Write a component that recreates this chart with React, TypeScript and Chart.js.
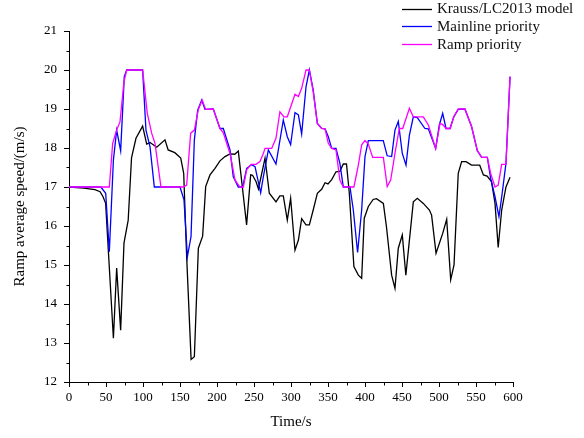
import React, { useEffect, useRef } from "react";
import { Chart, registerables } from "chart.js";

Chart.register(...registerables);

const seriesLabels = ["Krauss/LC2013 model", "Mainline priority", "Ramp priority"];
const seriesColors = ["#000000", "#0000ff", "#ff00ff"];

const kraussTime = [0, 20, 35, 42, 46, 49.5, 60, 64.4, 69.8, 74.3, 80, 84.5, 90.5, 99.5, 105, 109.5, 118.5, 129.7, 134, 143, 151, 155, 159, 165, 169.4, 174.8, 180.6, 184.7, 190.5, 197.3, 204, 210.8, 217.6, 224, 228.8, 240, 245.5, 248, 252.7, 256, 264.9, 270.7, 279.7, 285, 289.6, 295, 299.5, 305.4, 310, 314.4, 320.3, 324.8, 330, 335.6, 341.4, 346, 350, 355, 360.8, 366, 370.7, 375, 378.8, 385, 391, 395.5, 399, 404.5, 411, 415.5, 424.8, 429, 436, 440.5, 445, 450.4, 455.2, 465.3, 470.7, 478.8, 487, 490, 496, 505, 510.4, 515.8, 520.3, 526, 530.6, 536.5, 544, 555, 560, 565, 571, 575.7, 580, 584.7, 590.5, 596];
const kraussSpeed = [17.0, 16.97, 16.93, 16.88, 16.75, 16.58, 13.12, 14.92, 13.33, 15.56, 16.15, 17.75, 18.25, 18.56, 18.1, 18.14, 18.02, 18.21, 17.95, 17.88, 17.74, 17.35, 15.21, 12.58, 12.65, 15.43, 15.74, 17.01, 17.31, 17.48, 17.67, 17.78, 17.85, 17.84, 17.92, 16.03, 17.31, 17.3, 17.14, 16.95, 17.74, 16.84, 16.62, 16.77, 16.77, 16.15, 16.71, 15.38, 15.64, 16.19, 16.03, 16.03, 16.41, 16.84, 16.94, 17.11, 17.08, 17.19, 17.39, 17.4, 17.59, 17.59, 16.84, 14.96, 14.74, 14.66, 16.2, 16.5, 16.68, 16.7, 16.58, 15.98, 14.74, 14.4, 15.43, 15.77, 14.74, 16.62, 16.71, 16.58, 16.41, 16.28, 15.3, 15.81, 16.17, 14.62, 15.0, 17.35, 17.65, 17.65, 17.56, 17.56, 17.31, 17.28, 17.14, 16.58, 15.45, 16.41, 17.0, 17.25];

const mainTime = [0, 43, 49.6, 54.5, 60, 64.4, 69.8, 74.7, 78, 99.5, 104, 109.5, 115.3, 150, 155.4, 160, 164.9, 169.4, 173.9, 179.3, 183.8, 195, 204, 208.5, 217.6, 222, 228.8, 234.7, 240.1, 246.8, 251.4, 259, 262.6, 269.4, 279.7, 289.6, 295, 299.5, 305.4, 310, 314.4, 320.3, 324.8, 330, 335.6, 341.4, 346, 350.4, 355, 360.8, 366, 370.7, 379.7, 384.2, 390, 395.5, 400, 404.5, 424.7, 430, 436, 440.5, 445, 450.4, 455.4, 460, 465.3, 470.7, 481, 485.6, 495.5, 500.4, 505, 509.5, 515, 520, 526, 535, 544, 551.8, 557.7, 565.3, 569.8, 575.7, 581, 584.7, 590.5, 596];
const mainSpeed = [17, 17, 16.84, 15.34, 17.69, 18.46, 17.93, 19.83, 20, 20, 18.46, 18.03, 17.0, 17.0, 16.67, 15.21, 15.73, 18.21, 18.97, 19.23, 18.99, 19.0, 18.5, 18.5, 17.95, 17.26, 17.0, 17.0, 17.48, 17.57, 17.52, 16.85, 17.26, 17.95, 17.59, 18.72, 18.29, 18.09, 18.91, 18.85, 18.36, 19.57, 20.0, 19.49, 18.63, 18.5, 18.49, 18.29, 17.99, 17.99, 17.61, 17.0, 17.0, 16.41, 15.32, 16.41, 17.78, 18.19, 18.19, 17.8, 17.78, 18.46, 18.68, 17.86, 17.56, 18.33, 18.8, 18.78, 18.5, 18.49, 17.99, 18.59, 18.89, 18.5, 18.5, 18.8, 18.99, 19.0, 18.55, 17.93, 17.76, 17.76, 17.22, 16.75, 16.24, 16.74, 17.61, 19.83];

const rampTime = [0, 54.5, 59, 64.4, 68.9, 74.3, 78, 99.5, 105.8, 111.7, 116.2, 124.3, 154.5, 159, 164.4, 169.4, 174.8, 180, 184.7, 195, 204, 208.5, 217.6, 224.3, 231, 235.6, 240.1, 246, 252.7, 258, 262.6, 264.9, 273.9, 279.7, 285, 290.5, 295, 305.4, 310, 314.4, 320.3, 324.8, 330, 335.6, 341.4, 346, 350.4, 355, 360.8, 366, 370.7, 385, 391, 395.5, 400, 404.5, 410.4, 424.8, 430, 434.7, 440.5, 446.4, 451, 460, 465.3, 478.8, 485.6, 495.5, 501.4, 505, 509.5, 515, 520, 526, 535, 544, 551.8, 557.7, 565.3, 569.8, 575.7, 580, 584.7, 590.5, 596];
const rampSpeed = [17, 17, 18.12, 18.46, 18.67, 19.7, 20, 20, 18.89, 18.38, 18.12, 17.0, 17.0, 17.05, 18.38, 18.46, 18.99, 19.23, 18.99, 19.0, 18.5, 18.39, 17.86, 17.18, 17.0, 17.0, 17.44, 17.58, 17.58, 17.65, 17.86, 17.99, 17.99, 18.25, 18.93, 18.8, 18.8, 19.38, 19.32, 19.53, 20.0, 20.0, 19.44, 18.63, 18.5, 18.49, 18.12, 17.99, 17.95, 17.18, 17.0, 17.0, 17.56, 18.08, 18.19, 18.1, 17.76, 17.76, 17.01, 17.18, 17.86, 18.5, 18.5, 19.02, 18.8, 18.8, 18.59, 17.99, 18.63, 18.6, 18.5, 18.5, 18.8, 19.0, 19.0, 18.55, 17.93, 17.76, 17.76, 17.35, 17.0, 17.05, 17.58, 17.58, 19.83];

const xMin = 0;
const xMax = 600;
const xStep = 50;
const xMinorStep = 25;
const yMin = 12;
const yMax = 21;
const yStep = 1;
const yMinorStep = 0.5;

const FONT = "'Liberation Serif', 'Times New Roman', serif";

const toPoints = (t: number[], v: number[]) => t.map((x, i) => ({ x, y: v[i] }));

const minorTicks = {
  id: "minorTicks",
  afterDraw(chart: any) {
    const { ctx, scales } = chart;
    const xs = scales.x;
    const ys = scales.y;
    ctx.save();
    ctx.strokeStyle = "#000";
    ctx.lineWidth = 1;
    ctx.beginPath();
    for (let v = xMin; v <= xMax; v += xMinorStep) {
      if (v % xStep === 0) continue;
      const px = Math.round(xs.getPixelForValue(v)) + 0.5;
      const py = Math.round(ys.bottom) + 0.5;
      ctx.moveTo(px, py);
      ctx.lineTo(px, py + 3);
    }
    for (let v = yMin; v <= yMax; v += yMinorStep) {
      if (v % yStep === 0) continue;
      const py = Math.round(ys.getPixelForValue(v)) + 0.5;
      const px = Math.round(xs.left) + 0.5;
      ctx.moveTo(px, py);
      ctx.lineTo(px - 3, py);
    }
    ctx.stroke();
    ctx.restore();
  },
};

const customLegend = {
  id: "customLegend",
  afterDraw(chart: any) {
    const { ctx } = chart;
    ctx.save();
    ctx.font = `15px ${FONT}`;
    ctx.textBaseline = "middle";
    ctx.textAlign = "left";
    seriesLabels.forEach((label, i) => {
      const y = 8.5 + i * 17.6;
      ctx.strokeStyle = seriesColors[i];
      ctx.lineWidth = 1.3;
      ctx.beginPath();
      ctx.moveTo(402, Math.round(y) + 0.5);
      ctx.lineTo(432, Math.round(y) + 0.5);
      ctx.stroke();
      ctx.fillStyle = "#111";
      ctx.fillText(label, 437, y + 1);
    });
    ctx.restore();
  },
};

export default function App() {
  const ref = useRef<HTMLCanvasElement | null>(null);

  useEffect(() => {
    if (!ref.current) return;
    const seriesData = [
      toPoints(kraussTime, kraussSpeed),
      toPoints(mainTime, mainSpeed),
      toPoints(rampTime, rampSpeed),
    ];
    const chart = new Chart(ref.current, {
      type: "line",
      data: {
        datasets: seriesLabels.map((label, i) => ({
          label,
          data: seriesData[i],
          borderColor: seriesColors[i],
          backgroundColor: seriesColors[i],
          borderWidth: 1.3,
          pointRadius: 0,
          tension: 0,
          fill: false,
          order: 2 - i,
        })),
      },
      options: {
        animation: false,
        responsive: false,
        devicePixelRatio: 1,
        layout: { padding: { left: 0, right: 71, top: 31, bottom: 0 } },
        plugins: {
          legend: { display: false },
          tooltip: { enabled: false },
        },
        scales: {
          x: {
            type: "linear",
            min: xMin,
            max: xMax,
            ticks: {
              stepSize: xStep,
              color: "#000",
              font: { family: FONT, size: 13 },
              padding: 3,
              maxRotation: 0,
            },
            grid: { drawOnChartArea: false, drawTicks: true, tickLength: 5, color: "#000" },
            border: { color: "#000", width: 1 },
            title: {
              display: true,
              text: "Time/s",
              color: "#000",
              font: { family: FONT, size: 15 },
              padding: { top: 0, bottom: 7 },
            },
            afterFit(scale: any) {
              scale.height = 56;
            },
          },
          y: {
            type: "linear",
            min: yMin,
            max: yMax,
            ticks: {
              stepSize: yStep,
              color: "#000",
              font: { family: FONT, size: 13 },
              padding: 7,
            },
            grid: { drawOnChartArea: false, drawTicks: true, tickLength: 5, color: "#000" },
            border: { color: "#000", width: 1 },
            title: {
              display: true,
              text: "Ramp average speed/(m/s)",
              color: "#000",
              font: { family: FONT, size: 15 },
              padding: { top: 11, bottom: 0 },
            },
            afterFit(scale: any) {
              scale.width = 69;
            },
          },
        },
      },
      plugins: [minorTicks, customLegend],
    });
    return () => chart.destroy();
  }, []);

  return (
    <div style={{ position: "fixed", left: 0, top: 0, width: 584, height: 438, background: "#fff" }}>
      <canvas ref={ref} width={584} height={438} />
    </div>
  );
}
